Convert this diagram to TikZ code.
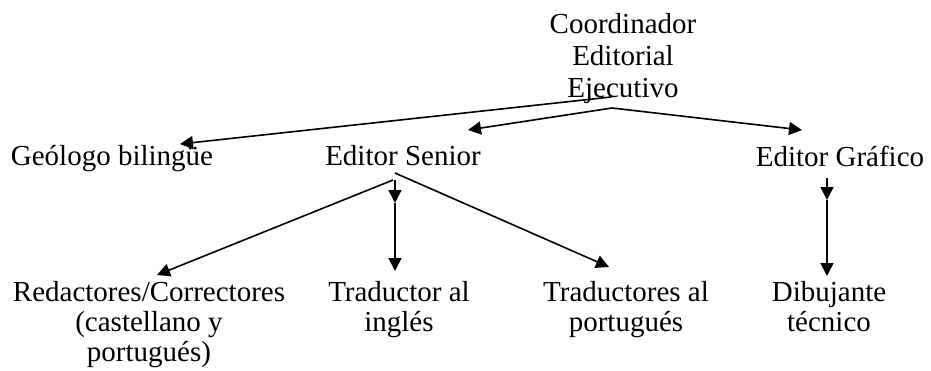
\documentclass[tikz,border=0pt]{standalone}
\usepackage{fontspec}
\setmainfont{Liberation Serif}
\usetikzlibrary{arrows.meta}
\begin{document}
\begin{tikzpicture}[x=1pt,y=-1pt,
  lbl/.style={anchor=north,inner sep=0pt,align=center,font=\fontsize{29}{32}\selectfont},
  lblb/.style={lbl,font=\fontsize{29}{30}\selectfont},
  arr/.style={line width=1.6pt,-{Triangle[length=13pt,width=13pt]}}]
\useasboundingbox (0,0) rectangle (931,370);
% nodes
\node[lbl] (coord) at (623,13.5) {Coordinador\\Editorial\\Ejecutivo};
\node[lbl] (geo) at (112,145.5) {Geólogo bilingüe};
\node[lbl] (sen) at (403,145.5) {Editor Senior};
\node[lbl] (gra) at (840,145.5) {Editor Gráfico};
\node[lblb] (red) at (149,281) {Redactores/Correctores\\(castellano y\\portugués)};
\node[lblb] (ing) at (399,281) {Traductor al\\inglés};
\node[lblb] (por) at (626,281) {Traductores al\\portugués};
\node[lblb] (dib) at (829,281) {Dibujante\\técnico};
% connector points
\coordinate (c1) at (611,97);
\coordinate (c2) at (612,108);
\coordinate (geoT) at (180,144);
\coordinate (senT) at (468,130);
\coordinate (graT) at (802,130);
\coordinate (s1) at (393,180);
\coordinate (s2) at (395,173);
\coordinate (sv) at (395,180);
\coordinate (sm) at (395,203);
\coordinate (redT) at (157,275);
\coordinate (ingT) at (395,271);
\coordinate (porT) at (609,267);
\coordinate (g1) at (827,178);
\coordinate (gm) at (827,200);
\coordinate (dibT) at (827,276);
% connectors
\draw[arr] (c1) -- (geoT);
\draw[arr] (c2) -- (senT);
\draw[arr] (c2) -- (graT);
\draw[arr] (s1) -- (redT);
\draw[arr] (sv) -- (sm);
\draw[arr] (sm) -- (ingT);
\draw[arr] (s2) -- (porT);
\draw[arr] (g1) -- (gm);
\draw[arr] (gm) -- (dibT);
\end{tikzpicture}
\end{document}
